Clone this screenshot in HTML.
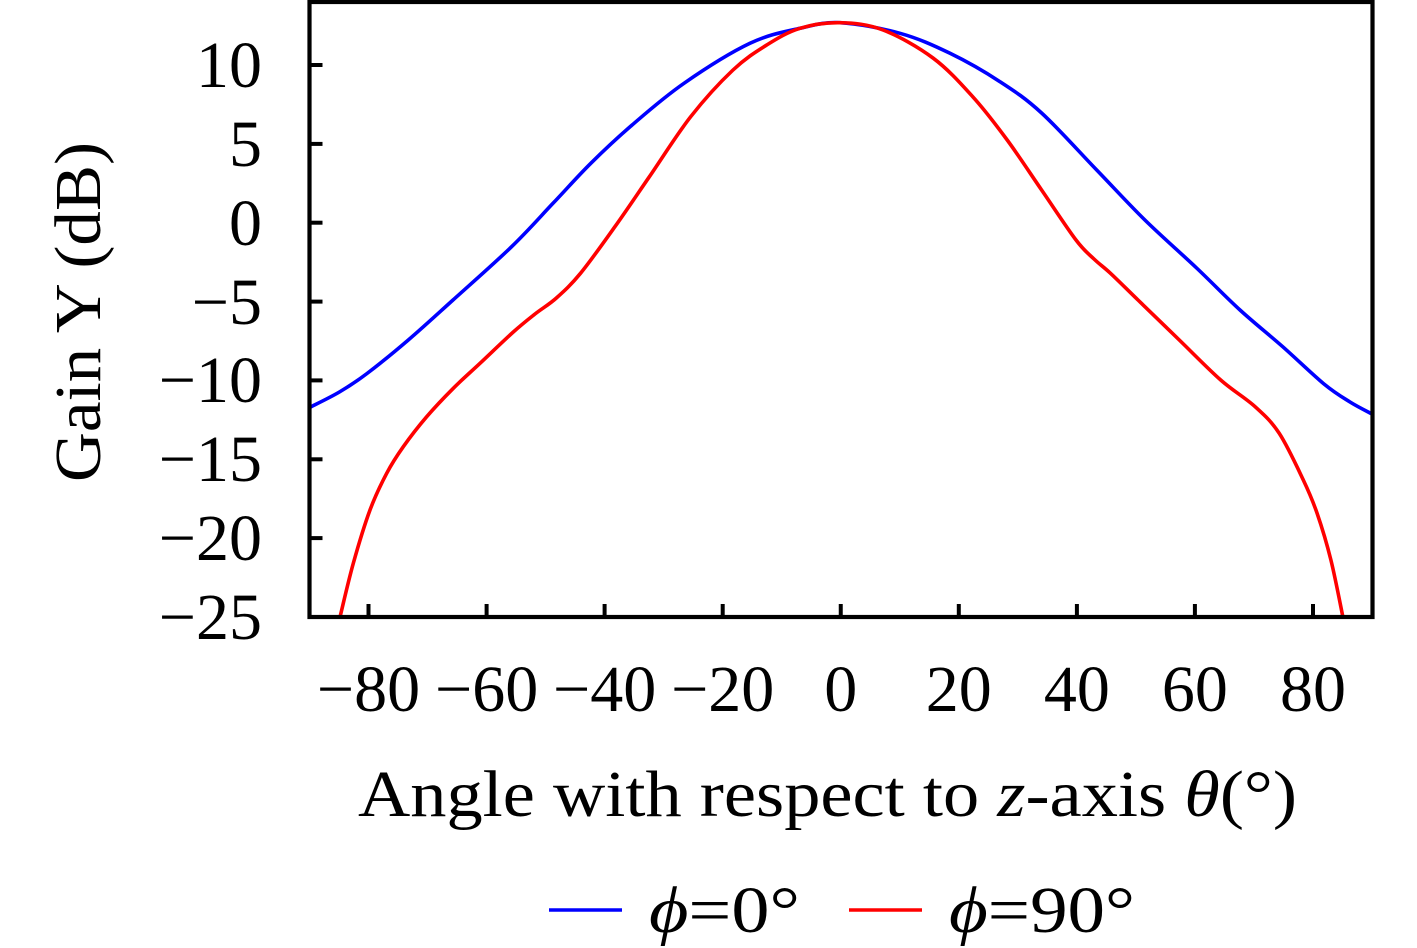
<!DOCTYPE html>
<html>
<head>
<meta charset="utf-8">
<style>
  html, body { margin: 0; padding: 0; background: #ffffff; }
  body { width: 1417px; height: 948px; overflow: hidden; }
  svg { display: block; }
  text { font-family: "Liberation Serif", "DejaVu Serif", serif; fill: #000; }
</style>
</head>
<body>
<svg width="1417" height="948" viewBox="0 0 1417 948" xmlns="http://www.w3.org/2000/svg">
  <rect x="0" y="0" width="1417" height="948" fill="#ffffff"/>

  <defs>
    <clipPath id="plotclip"><rect x="309.5" y="2" width="1063" height="615"/></clipPath>
  </defs>

  <g clip-path="url(#plotclip)">
  <!-- Series: phi = 0 (blue) -->
  <path id="blue" fill="none" stroke="#0000ff" stroke-width="3.6" stroke-linejoin="round"
    d="M309.5,407.5 L339.4,392 L367,373.5 L408.3,340 L453,300 L511.6,246.7 L553,203.3 L590.8,163.3 L632.1,125 L684,83.3 L750,43.3 L800,28.3 L840,22.7 L900,33.3 L950,53.3 L1000,81.7 L1041.6,113 L1096.7,170 L1144.9,220 L1196.6,268 L1240,310 L1282.7,346.7 L1324,384 L1350,402 L1372,414"/>

  <!-- Series: phi = 90 (red) -->
  <path id="red" fill="none" stroke="#ff0000" stroke-width="3.6" stroke-linejoin="round"
    d="M338,625 L340,617 L353.3,563.3 L370,510 L386.7,473.3 L403.3,446.7 L426.7,416.7 L453.3,388.3 L480,363.3 L513.3,332 L535,314 L556.4,298 L580.5,273.3 L614.9,226.7 L649.4,176.7 L690.7,116.7 L733,70 L766.7,45 L800,28.3 L840,22.7 L883,30 L933,58 L972.7,96.7 L1007.2,140 L1041.6,190 L1076,240 L1094,259 L1110.5,273.3 L1138,300 L1179.3,340 L1220.7,380 L1255.1,406.7 L1279.2,433.3 L1303.3,480 L1317.1,513.3 L1330.9,560 L1342.9,617 L1344.3,625"/>
  </g>

  <!-- Axes frame -->
  <rect x="309.5" y="2" width="1063" height="615" fill="none" stroke="#000" stroke-width="4.2"/>

  <!-- Y ticks -->
  <g stroke="#000" stroke-width="4">
    <line x1="309.5" y1="65" x2="322.5" y2="65"/>
    <line x1="309.5" y1="143.9" x2="322.5" y2="143.9"/>
    <line x1="309.5" y1="222.7" x2="322.5" y2="222.7"/>
    <line x1="309.5" y1="301.6" x2="322.5" y2="301.6"/>
    <line x1="309.5" y1="380.4" x2="322.5" y2="380.4"/>
    <line x1="309.5" y1="459.3" x2="322.5" y2="459.3"/>
    <line x1="309.5" y1="538.1" x2="322.5" y2="538.1"/>
  </g>
  <!-- X ticks -->
  <g stroke="#000" stroke-width="4">
    <line x1="368.5" y1="617" x2="368.5" y2="604"/>
    <line x1="486.6" y1="617" x2="486.6" y2="604"/>
    <line x1="604.6" y1="617" x2="604.6" y2="604"/>
    <line x1="722.7" y1="617" x2="722.7" y2="604"/>
    <line x1="840.75" y1="617" x2="840.75" y2="604"/>
    <line x1="958.8" y1="617" x2="958.8" y2="604"/>
    <line x1="1076.9" y1="617" x2="1076.9" y2="604"/>
    <line x1="1194.9" y1="617" x2="1194.9" y2="604"/>
    <line x1="1313" y1="617" x2="1313" y2="604"/>
  </g>

  <!-- Y tick labels -->
  <g font-size="66" text-anchor="end">
    <text x="262" y="87">10</text>
    <text x="262" y="166">5</text>
    <text x="262" y="245">0</text>
    <text x="262" y="324">−5</text>
    <text x="262" y="402">−10</text>
    <text x="262" y="481">−15</text>
    <text x="262" y="560">−20</text>
    <text x="262" y="639">−25</text>
  </g>

  <!-- X tick labels -->
  <g font-size="66" text-anchor="middle">
    <text x="368.5" y="711">−80</text>
    <text x="486.6" y="711">−60</text>
    <text x="604.6" y="711">−40</text>
    <text x="722.7" y="711">−20</text>
    <text x="840.75" y="711">0</text>
    <text x="958.8" y="711">20</text>
    <text x="1076.9" y="711">40</text>
    <text x="1194.9" y="711">60</text>
    <text x="1313" y="711">80</text>
  </g>

  <!-- X axis label -->
  <text x="358" y="816" font-size="66" textLength="939" lengthAdjust="spacingAndGlyphs">Angle with respect to <tspan font-style="italic">z</tspan>-axis <tspan font-style="italic">θ</tspan>(°)</text>

  <!-- Y axis label -->
  <text transform="translate(100,312) rotate(-90)" x="-170" y="0" font-size="66" textLength="340" lengthAdjust="spacingAndGlyphs">Gain Y (dB)</text>

  <!-- Legend -->
  <line x1="549" y1="910" x2="622" y2="910" stroke="#0000ff" stroke-width="3.6"/>
  <text x="649" y="932" font-size="66" textLength="151" lengthAdjust="spacingAndGlyphs"><tspan font-style="italic">ϕ</tspan>=0°</text>
  <line x1="849" y1="910" x2="922" y2="910" stroke="#ff0000" stroke-width="3.6"/>
  <text x="949" y="932" font-size="66" textLength="186" lengthAdjust="spacingAndGlyphs"><tspan font-style="italic">ϕ</tspan>=90°</text>
</svg>
<script>
(function(){
  function smooth(id){
    var el = document.getElementById(id);
    if(!el) return;
    var d = el.getAttribute('d');
    var nums = d.replace(/[ML]/g,' ').trim().split(/[\s,]+/).map(Number);
    var p = [];
    for (var i=0;i<nums.length;i+=2) p.push([nums[i],nums[i+1]]);
    var n = p.length;
    var out = 'M' + p[0][0] + ',' + p[0][1];
    for (var i=0;i<n-1;i++){
      var p0 = p[i>0?i-1:i], p1 = p[i], p2 = p[i+1], p3 = p[i+2<n?i+2:i+1];
      var c1x = p1[0] + (p2[0]-p0[0])/6, c1y = p1[1] + (p2[1]-p0[1])/6;
      var c2x = p2[0] - (p3[0]-p1[0])/6, c2y = p2[1] - (p3[1]-p1[1])/6;
      out += ' C' + c1x.toFixed(2) + ',' + c1y.toFixed(2) + ' ' + c2x.toFixed(2) + ',' + c2y.toFixed(2) + ' ' + p2[0] + ',' + p2[1];
    }
    el.setAttribute('d', out);
  }
  smooth('blue');
  smooth('red');
})();
</script>
</body>
</html>
